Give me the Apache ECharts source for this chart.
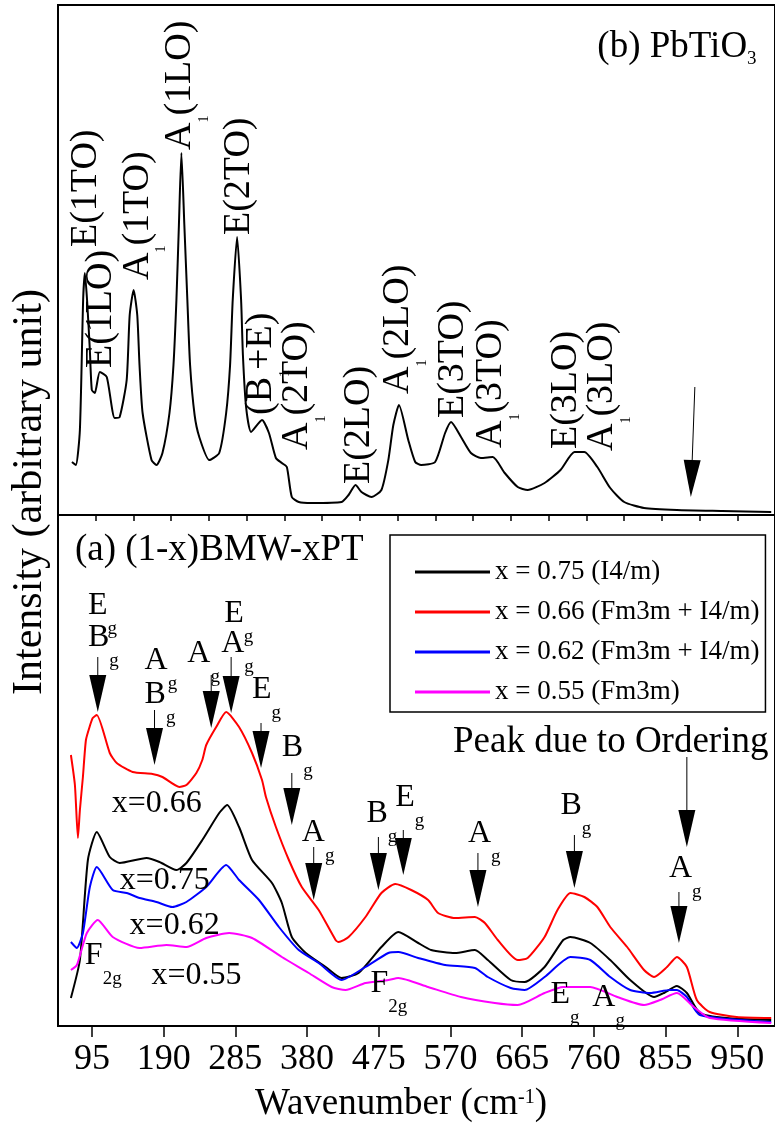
<!DOCTYPE html>
<html><head><meta charset="utf-8">
<script src="https://cdn.jsdelivr.net/npm/echarts@6/dist/echarts.min.js"></script>
<style>html,body{margin:0;padding:0;background:#fff}#c{width:775px;height:1126px}</style>
</head><body><div id="c"></div>
<script>
const FONT = 'Liberation Serif';

// ---------- Panel (b): PbTiO3 spectrum ----------
const ptWavenumber = [68.5,73.7,79,83.3,85.6,88.5,92.2,94.8,98.8,105.4,114.6,125.1,131.7,141,145,150.2,155,158,162.1,173.9,180.5,188.4,197.7,203,206.9,210.2,213.5,217.4,221.4,225,231,237.2,250.4,263.6,272.8,278,281.5,287.3,292.6,295,299.2,305.8,320.3,329.5,338.7,346.6,353.2,359.8,369,386.2,425.7,435,444.2,452.1,465.3,478.5,487.7,494.3,501.8,514.1,523.3,531.2,549.7,562.9,570.8,584,597.1,610.3,626.1,641.9,659.1,672.3,694.7,715.8,734.3,747.4,764.6,781.7,800.2,826.5,870,930,995];
const ptIntensity  = [10.6,10,17,43,48.4,43,33,25,24.4,28.6,27.6,19.4,19.6,27,40,45,40,30,20.4,11,10,12.4,20.4,30,43,58,72.4,58,43,30,20,15.6,11,12.4,20.4,30,43,55.6,43,32,21.6,16.6,19,16.4,11.4,10.4,9.6,3.6,2.6,2.4,2.6,4,6,4.6,3.6,5,11,18,22,15,10.6,10,10.6,16.4,18.6,15.6,12.4,11.4,11.6,8.4,5.6,5,6.4,9,12.6,12.6,9.6,5.4,2.6,1.4,1,0.8,0.6];

// ---------- Panel (a): (1-x)BMW-xPT spectra ----------
const seriesNames  = ['x = 0.75 (I4/m)','x = 0.66 (Fm3m + I4/m)','x = 0.62 (Fm3m + I4/m)','x = 0.55 (Fm3m)'];
const seriesColors = ['#000000','#ff0000','#0000ff','#ff00ff'];

const wn075 = [67.1,79,89.6,101.4,118.6,131.7,167.3,184.5,206.9,220.1,241.2,263.6,274.1,289.9,307.1,333.5,346.6,359.8,378.3,404.7,425.7,448.2,478.5,500.9,527.3,544.4,576.1,602.4,619.5,649.9,668.3,694.7,719.4,729,755.3,781.7,808.1,839.7,852.9,870,883.2,900.4,936,995];
const in075 = [5.6,13.2,33.2,38.8,33.8,32.6,33.6,32.8,31.2,32.6,37.2,42.6,44.2,39.8,33.2,28.6,24.6,17.8,14.6,11.8,9.6,10.6,15.8,18.8,16.6,15.2,14.6,15.2,13.2,9.2,8.8,11.8,17.2,17.8,16.6,13.2,9.2,5.8,6.6,8.0,6.6,2.6,1.6,1.2];

const wn066 = [67.1,72.4,76.4,79,83,87,92.2,96,101.4,118.6,127.8,148.9,175.2,188.4,210.8,220.1,233.3,241.2,246.4,259.6,272.8,289.9,307.1,320.3,325.5,338.7,355.9,373,395.4,417.8,421.8,435,457.4,478.5,496.9,518,540.4,553.6,576.1,602.4,615.6,632.7,659.1,672.3,694.7,711.8,729,747.4,764.6,781.7,804.1,826.5,839.7,856.9,870,883.2,896.4,913.5,949.2,995];
const in066 = [54.2,48.2,37.6,43.2,49.8,57.2,60,61.6,62.2,54.6,52.6,50.8,50.4,49.8,47.8,48.2,50.6,53.2,56.2,59.8,62.8,59.8,54.6,49.2,45.8,39.8,33.2,27.8,23.2,17.2,16.8,17.8,21.8,26.6,28.4,27.2,25.2,22.6,21.6,21.8,20.6,17.2,13.2,13.6,17.8,23.2,26.6,25.8,23.8,19.8,15.8,11.2,9.8,11.8,13.8,11.8,5.2,2.8,1.8,1.6];

const wn062 = [67.1,75,83,92.2,101.4,122.5,141,158.1,180.5,201.6,220.1,246.4,272.8,289.9,316.3,342.7,369,395.4,425.7,457.4,487.7,500.9,527.3,562.9,602.4,619.5,649.9,668.3,694.7,729,755.3,781.7,808.1,834.4,860.8,870,883.2,900.4,995];
const in062 = [16.8,15.6,18.6,27.8,31.8,27.2,26.6,25.6,24.8,23.8,24.8,27.8,32.2,29.2,25.2,19.8,15.2,12.6,9.2,11.8,14.6,14.8,13.6,12.2,11.6,9.8,7.6,7.2,9.8,13.8,13.2,9.8,7.2,6.6,7.2,7.2,5.8,2.2,0.8];

const wn055 = [67.1,75,88.2,102.7,122.5,158.1,193.7,220.1,246.4,276.8,307.1,346.6,382.2,412.6,431,457.4,487.7,500.9,540.4,583.9,628.8,659.1,694.7,719.4,755.3,791,826.5,847.6,870,892.5,913.5,995];
const in055 = [11.2,12.2,18.6,21.2,17.8,15.6,16.2,15.8,17.6,18.6,17.6,13.8,10.6,7.8,7.2,8.6,9.2,9.6,7.8,5.8,4.6,4.2,6.6,7.8,7.8,5.8,4.2,5.2,6.6,3.8,1.6,0.6];

// ---------- Axis ticks ----------
const bottomTicks = [95,190,285,380,475,570,665,760,855,950];
const middleTicks = [100,150,200,250,300,350,400,450,500,550,600,650,700,750,800,850,900,950,1000];

// ---------- Annotations ----------
const topModeLabels = [
  {t:'{m|E(1TO)}', x:60.5, y:53.6},
  {t:'{m|E(1LO)}', x:80.3, y:29.4},
  {t:'{m|A}{s|1}{m|(1TO)}', x:129.1, y:47},
  {t:'{m|A}{s|1}{m|(1LO)}', x:185.8, y:73},
  {t:'{m|E(2TO)}', x:263.6, y:56},
  {t:'{m|(B}{s|1}{m|+E)}', x:292.6, y:20},
  {t:'{m|A}{s|1}{m|(2TO)}', x:340, y:13},
  {t:'{m|E(2LO)}', x:421.8, y:6.2},
  {t:'{m|A}{s|1}{m|(2LO)}', x:474.5, y:24.2},
  {t:'{m|E(3TO)}', x:547, y:19.4},
  {t:'{m|A}{s|1}{m|(3TO)}', x:597.1, y:13.4},
  {t:'{m|E(3LO)}', x:696, y:13.2},
  {t:'{m|A}{s|1}{m|(3LO)}', x:744.8, y:12.8}
];
const bottomModeLabels = [
  {t:'{m|E}{s|g}', x:89.6, y:86.2},
  {t:'{m|B}{s|g}', x:89.6, y:79.8},
  {t:'{m|A}{s|g}', x:164.7, y:75.2},
  {t:'{m|B}{s|g}', x:164.7, y:68.4},
  {t:'{m|A}{s|g}', x:221.4, y:76.6},
  {t:'{m|E}{s|g}', x:270.2, y:84.6},
  {t:'{m|A}{s|g}', x:266.2, y:78.6},
  {t:'{m|E}{s|g}', x:307.1, y:69.4},
  {t:'{m|B}{s|g}', x:346.6, y:57.8},
  {t:'{m|A}{s|g}', x:373, y:40.8},
  {t:'{m|B}{s|g}', x:458.7, y:44.6},
  {t:'{m|E}{s|g}', x:496.9, y:47.8},
  {t:'{m|A}{s|g}', x:593.2, y:40.6},
  {t:'{m|B}{s|g}', x:715.8, y:46.2},
  {t:'{m|A}{s|g}', x:859.5, y:33.6},
  {t:'{m|F}{s|2g}', x:85.6, y:16.2},
  {t:'{m|F}{s|2g}', x:464, y:10.6},
  {t:'{m|E}{s|g}', x:702.6, y:8.4},
  {t:'{m|A}{s|g}', x:758, y:7.8},
  {t:'{m|x=0.66}', x:121.2, y:46.6},
  {t:'{m|x=0.75}', x:131.7, y:31.2},
  {t:'{m|x=0.62}', x:144.9, y:22.2},
  {t:'{m|x=0.55}', x:173.9, y:12.2}
];
const topBigLabels = [ {t:'{m|(b) PbTiO}{s|3}', x:764.6, y:96} ];
const bottomBigLabels = [
  {t:'{m|(a) (1-x)BMW-xPT}', x:72.4, y:97.6},
  {t:'{m|Peak due to Ordering}', x:573.4, y:59.2}
];
const topArrows = [[893.8,25.6,888.5,3.6]];
const bottomArrows = [
  [102.7,73.8,102.7,62.8],
  [177.9,63.2,177.9,52.2],
  [253,70.2,253,59.6],
  [279.4,73.8,279.4,62.6],
  [319,60.6,319,51.6],
  [359.8,50.6,359.8,40.2],
  [388.8,35.8,388.8,25.2],
  [474.5,37.8,474.5,27.2],
  [507.5,39.2,507.5,30.2],
  [606.4,34.6,606.4,23.8],
  [734.2,38.2,734.2,27.6],
  [883.2,53.8,883.2,35.8],
  [872.7,26.8,872.7,16.6]
];

// ---------- helpers ----------
const zip = (xs, ys) => xs.map((x, i) => [x, ys[i]]);

function arrowSeries(xi, yi, arr) {
  return {
    type: 'custom', xAxisIndex: xi, yAxisIndex: yi, silent: true, z: 5,
    encode: {x: [0, 2], y: [1, 3]},
    data: arr,
    renderItem: function (params, api) {
      const a = api.coord([api.value(0), api.value(1)]);
      const b = api.coord([api.value(2), api.value(3)]);
      const dx = b[0] - a[0], dy = b[1] - a[1];
      const len = Math.sqrt(dx * dx + dy * dy) || 1;
      const ux = dx / len, uy = dy / len;
      const L = 37, W = 8.5;
      const bx = b[0] - ux * L, by = b[1] - uy * L;
      const px = -uy * W, py = ux * W;
      return {
        type: 'group',
        children: [
          {type: 'line', shape: {x1: a[0], y1: a[1], x2: bx, y2: by}, style: {stroke: '#000', lineWidth: 1}},
          {type: 'polygon', shape: {points: [[b[0], b[1]], [bx + px, by + py], [bx - px, by - py]]}, style: {fill: '#000'}}
        ]
      };
    }
  };
}

function noteSeries(xi, yi, notes, rich, dx, dy, rotation) {
  return {
    type: 'custom', xAxisIndex: xi, yAxisIndex: yi, silent: true, z: 6,
    data: notes.map(n => [n.x, n.y]),
    renderItem: function (params, api) {
      const n = notes[params.dataIndex];
      const p = api.coord([api.value(0), api.value(1)]);
      return {
        type: 'text',
        x: p[0] + dx, y: p[1] + dy,
        rotation: rotation,
        style: {text: n.t, rich: rich, fill: '#000', fontFamily: FONT, fontSize: 30, align: 'left', verticalAlign: 'top'}
      };
    }
  };
}

const rotRich = {
  m: {fontFamily: FONT, fontSize: 38, lineHeight: 50, verticalAlign: 'top', fill: '#000'},
  s: {fontFamily: FONT, fontSize: 14, lineHeight: 14, verticalAlign: 'bottom', fill: '#000'}
};
const smallRich = {
  m: {fontFamily: FONT, fontSize: 32, lineHeight: 49, verticalAlign: 'top', fill: '#000'},
  s: {fontFamily: FONT, fontSize: 19, lineHeight: 19, verticalAlign: 'bottom', fill: '#000'}
};
const bigRich = {
  m: {fontFamily: FONT, fontSize: 37, lineHeight: 40, verticalAlign: 'top', fill: '#000'},
  s: {fontFamily: FONT, fontSize: 19, lineHeight: 19, verticalAlign: 'bottom', fill: '#000'}
};

const bottomSeriesData = [zip(wn075, in075), zip(wn066, in066), zip(wn062, in062), zip(wn055, in055)];

const chart = echarts.init(document.getElementById('c'), null, {renderer: 'canvas'});
const lineCommon = {type: 'line', showSymbol: false, symbol: 'none', smooth: 0.2, silent: true};
const tickStyle = {color: '#000', width: 1.5};

chart.setOption({
  animation: false,
  backgroundColor: '#ffffff',
  grid: [
    {left: 58, top: 5, width: 720.6, height: 510, show: true, borderColor: '#000', borderWidth: 2, backgroundColor: 'transparent'},
    {left: 58, top: 515, width: 720.6, height: 511, show: true, borderColor: '#000', borderWidth: 2, backgroundColor: 'transparent'}
  ],
  xAxis: [
    {gridIndex: 0, type: 'value', position: 'bottom', min: 50, max: 1000, axisLine: {show: false, onZero: false}, splitLine: {show: false},
     axisLabel: {show: false}, axisTick: {show: false}},
    // shared edge between the panels: ticks pointing down
    {gridIndex: 1, type: 'value', position: 'top', min: 50, max: 1000, axisLine: {show: false, onZero: false}, splitLine: {show: false},
     axisLabel: {show: false}, axisTick: {inside: true, customValues: middleTicks, length: 6, lineStyle: tickStyle}},
    // panel (a) bottom axis
    {gridIndex: 1, type: 'value', position: 'bottom', min: 50, max: 1000, axisLine: {show: false, onZero: false}, splitLine: {show: false},
     axisTick: {customValues: bottomTicks, length: 11, lineStyle: tickStyle},
     axisLabel: {customValues: bottomTicks, margin: 16, color: '#000', fontFamily: FONT, fontSize: 36}}
  ],
  yAxis: [
    {gridIndex: 0, type: 'value', min: 0, max: 102, show: false},
    {gridIndex: 1, type: 'value', min: 0, max: 102.2, show: false}
  ],
  legend: {
    data: seriesNames, orient: 'vertical', left: 390, top: 535,
    padding: [22, 6, 5, 25], itemWidth: 75, itemHeight: 3, itemGap: 10, icon: 'rect',
    borderColor: '#000', borderWidth: 1.5, selectedMode: false,
    textStyle: {fontFamily: FONT, fontSize: 27, color: '#000', lineHeight: 30}
  },
  graphic: [
    {type: 'text', x: 30, y: 492, rotation: Math.PI / 2,
     style: {text: 'Intensity (arbitrary unit)', fontFamily: FONT, fontSize: 42, fill: '#000', align: 'center', verticalAlign: 'middle'}},
    {type: 'text', x: 401, y: 1098,
     style: {text: '{m|Wavenumber (cm}{p|-1}{m|)}', fill: '#000', align: 'center', verticalAlign: 'middle',
       rich: {m: {fontFamily: FONT, fontSize: 37, lineHeight: 50, verticalAlign: 'bottom', fill: '#000'},
              p: {fontFamily: FONT, fontSize: 20, lineHeight: 20, verticalAlign: 'middle', fill: '#000'}}}}
  ],
  series: [
    Object.assign({}, lineCommon, {name: 'PbTiO3', xAxisIndex: 0, yAxisIndex: 0, data: zip(ptWavenumber, ptIntensity),
      lineStyle: {color: '#000', width: 2}, itemStyle: {color: '#000'}}),
    ...seriesNames.map((n, i) => Object.assign({}, lineCommon, {
      name: n, xAxisIndex: 2, yAxisIndex: 1, data: bottomSeriesData[i],
      lineStyle: {color: seriesColors[i], width: 2}, itemStyle: {color: seriesColors[i]}
    })),
    arrowSeries(0, 0, topArrows),
    arrowSeries(2, 1, bottomArrows),
    noteSeries(0, 0, topModeLabels, rotRich, 1, 0, Math.PI / 2),
    noteSeries(0, 0, topBigLabels, bigRich, 0, -6.5, 0),
    noteSeries(2, 1, bottomModeLabels, smallRich, 0, -5.6, 0),
    noteSeries(2, 1, bottomBigLabels, bigRich, 0, -6.5, 0)
  ]
});
</script></body></html>
